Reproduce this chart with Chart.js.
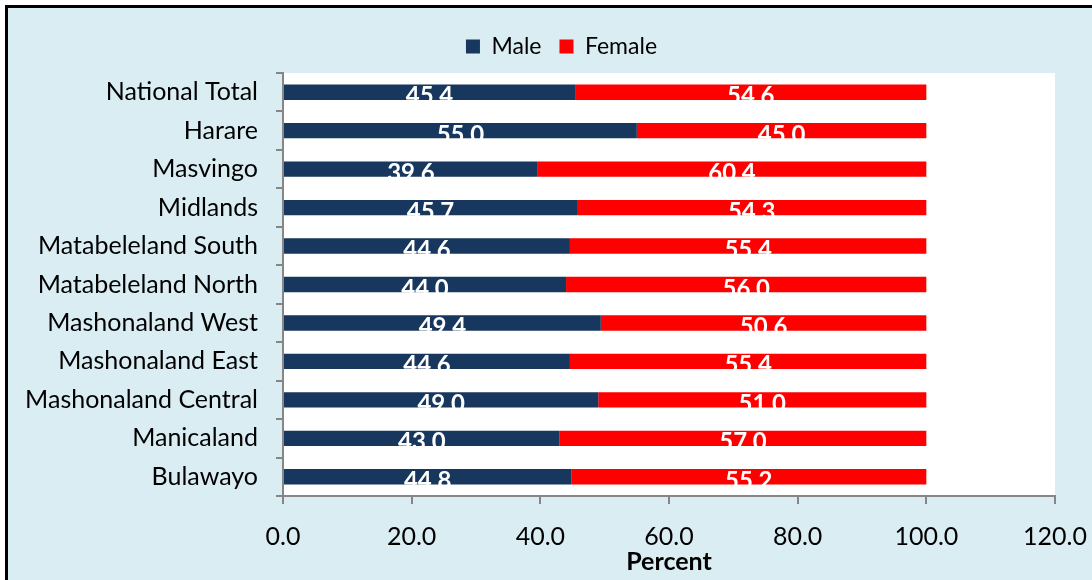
<!DOCTYPE html>
<html>
<head>
<meta charset="utf-8">
<script src="https://cdn.jsdelivr.net/npm/chart.js@4.4.1/dist/chart.umd.min.js"></script>
<style>
  html, body { margin: 0; padding: 0; background: #ffffff; overflow: hidden; }
  #frame {
    position: absolute; left: 5px; top: 5px;
    width: 1100px; height: 600px;
    border: 3px solid #000000;
    background: #DAEDF3;
  }
  #chart { position: absolute; left: 0; top: 0; }
</style>
</head>
<body>
<div id="frame"><canvas id="chart" width="1084" height="572"></canvas></div>
<script>
// Sex distribution by province (percent)
const provinces = [
  'National Total', 'Harare', 'Masvingo', 'Midlands', 'Matabeleland South',
  'Matabeleland North', 'Mashonaland West', 'Mashonaland East',
  'Mashonaland Central', 'Manicaland', 'Bulawayo'
];
const malePct   = [45.4, 55.0, 39.6, 45.7, 44.6, 44.0, 49.4, 44.6, 49.0, 43.0, 44.8];
const femalePct = [54.6, 45.0, 60.4, 54.3, 55.4, 56.0, 50.6, 55.4, 51.0, 57.0, 55.2];
const seriesNames = ['Male', 'Female'];
const xTickMax = 120;
const xTickStep = 20;

const FONT = 'Lato, "DejaVu Sans", sans-serif';
const AXIS_GREY = '#868686';

// White plot area behind the bars
const plotBackground = {
  id: 'plotBackground',
  beforeDraw(chart) {
    const { ctx, chartArea: a } = chart;
    ctx.save();
    ctx.fillStyle = '#ffffff';
    ctx.fillRect(a.left, a.top, a.right - a.left, a.bottom - a.top);
    ctx.restore();
  }
};

// Fixed legend band height; legend row nudged right of centre
const legendBand = {
  id: 'legendBand',
  beforeUpdate(chart) {
    const lg = chart.legend;
    if (lg && !lg._bandPatched) {
      const fit = lg.fit;
      lg.fit = function () {
        fit.call(this);
        this.height = 56;
        if (this.lineWidths && this.lineWidths.length) this.lineWidths[0] -= 60;
      };
      lg._bandPatched = true;
    }
  }
};

// Value labels inside each bar segment
const barValues = {
  id: 'barValues',
  afterDatasetsDraw(chart) {
    const ctx = chart.ctx;
    ctx.save();
    ctx.font = 'bold 24px ' + FONT;
    ctx.fillStyle = '#ffffff';
    ctx.textAlign = 'center';
    ctx.textBaseline = 'alphabetic';
    chart.data.datasets.forEach((ds, di) => {
      const meta = chart.getDatasetMeta(di);
      meta.data.forEach((bar, i) => {
        const cx = (bar.x + bar.base) / 2;
        ctx.fillText(ds.data[i].toFixed(1), cx, bar.y + 12);
      });
    });
    ctx.restore();
  }
};

new Chart(document.getElementById('chart'), {
  type: 'bar',
  data: {
    labels: provinces,
    datasets: [
      { label: seriesNames[0], data: malePct, backgroundColor: '#17375E' },
      { label: seriesNames[1], data: femalePct, backgroundColor: '#FF0000' }
    ]
  },
  options: {
    indexAxis: 'y',
    responsive: false,
    animation: false,
    events: [],
    layout: { padding: { left: 0, right: 37, top: 9, bottom: 0 } },
    datasets: { bar: { barPercentage: 0.4, categoryPercentage: 1.0 } },
    plugins: {
      tooltip: { enabled: false },
      legend: {
        position: 'top',
        labels: {
          boxWidth: 14, boxHeight: 14, padding: 18,
          color: '#000000',
          font: { family: FONT, size: 23 }
        }
      }
    },
    scales: {
      x: {
        stacked: true,
        min: 0, max: xTickMax,
        afterFit(scale) {
          scale.height = 84;
          scale.paddingLeft = 0;
          scale.paddingRight = 0;
        },
        grid: {
          drawOnChartArea: false, drawTicks: true, tickLength: 8,
          color: AXIS_GREY, lineWidth: 2
        },
        border: { display: true, color: AXIS_GREY, width: 2 },
        ticks: {
          stepSize: xTickStep, padding: 18, color: '#000000',
          font: { family: FONT, size: 25 },
          callback: (v) => Number(v).toFixed(1)
        },
        title: {
          display: true, text: 'Percent', color: '#000000',
          font: { family: FONT, size: 25, weight: 'bold' },
          padding: { top: 0, bottom: 3 }
        }
      },
      y: {
        stacked: true,
        afterFit(scale) { scale.width = 275; },
        grid: {
          drawOnChartArea: false, drawTicks: true, tickLength: 7, offset: true,
          color: AXIS_GREY, lineWidth: 2
        },
        border: { display: true, color: AXIS_GREY, width: 2 },
        ticks: {
          padding: 18, color: '#000000',
          font: { family: FONT, size: 25 }
        }
      }
    }
  },
  plugins: [plotBackground, legendBand, barValues]
});
</script>
</body>
</html>
